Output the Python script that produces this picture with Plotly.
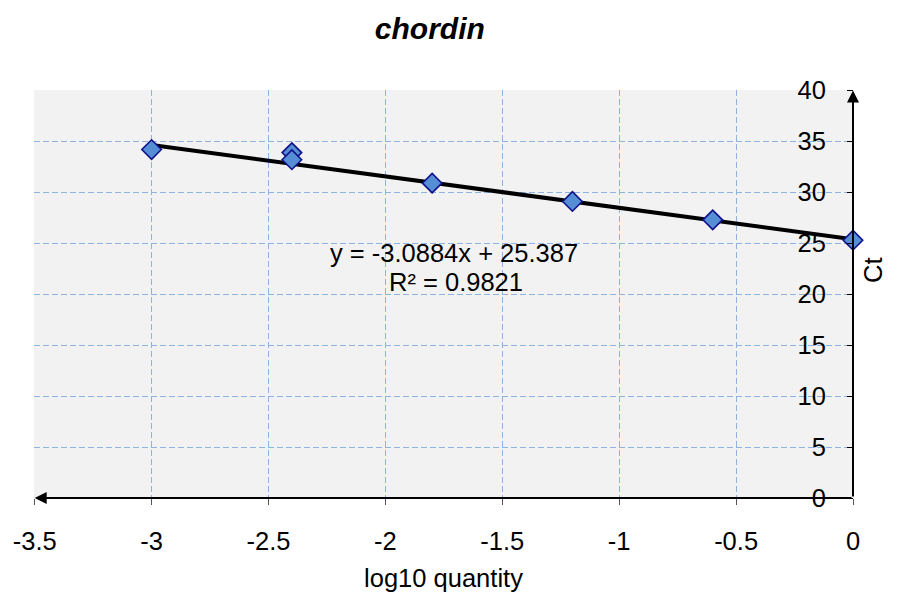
import plotly.graph_objects as go

log_qty = [-3.0, -2.4, -2.4, -1.8, -1.2, -0.6, 0.0]
ct = [34.2, 33.9, 33.2, 30.9, 29.1, 27.3, 25.3]
slope = -3.0884
intercept = 25.387
r2 = 0.9821
trend_x = [-3.0, 0.0]
trend_y = [slope * x + intercept for x in trend_x]
x_ticks = [-3.5, -3, -2.5, -2, -1.5, -1, -0.5, 0]
y_ticks = [0, 5, 10, 15, 20, 25, 30, 35, 40]

font = "Liberation Sans, Arial, sans-serif"
grid_col = "#8db3e2"
fs = 25.5

fig = go.Figure()
fig.add_trace(go.Scatter(x=trend_x, y=trend_y, mode="lines",
                         line=dict(color="black", width=4), showlegend=False))
fig.add_trace(go.Scatter(x=log_qty, y=ct, mode="markers", cliponaxis=False,
                         marker=dict(symbol="diamond", size=15, color="#558ed5",
                                     line=dict(color="#10108a", width=1.6)),
                         showlegend=False))

fig.update_layout(
    width=903, height=597,
    margin=dict(l=34, r=50, t=90, b=99),
    paper_bgcolor="white", plot_bgcolor="#f2f2f2",
    font=dict(family=font, size=fs, color="black"),
    title=dict(text="<b><i>chordin</i></b>", x=0.476, xanchor="center",
               y=0.953, yanchor="middle", font=dict(size=30, family=font)),
    xaxis=dict(range=[-3.503, 0], tickvals=x_ticks, automargin=False,
               ticktext=[f"{v:g}" for v in x_ticks],
               showgrid=True, gridcolor=grid_col, griddash="6px,3px", gridwidth=1.3,
               zeroline=False, showline=False,
               ticks="outside", ticklen=6, tickcolor="#555", tickwidth=1,
               ticklabelstandoff=14,
               title=dict(text="log10 quantity", standoff=15, font=dict(size=fs)),
               tickfont=dict(size=fs)),
    yaxis=dict(range=[0, 40.04], tickvals=y_ticks, side="left", automargin=False,
               anchor="free", position=1,
               showgrid=True, gridcolor=grid_col, griddash="6px,3px", gridwidth=1.3,
               zeroline=False, showline=False,
               ticks="outside", ticklen=6, tickcolor="black", tickwidth=1,
               ticklabelstandoff=16,
               tickfont=dict(size=fs)),
)

# axis lines with arrowheads
fig.add_annotation(x=-3.5, y=0, ax=0, ay=0, xref="x", yref="y", axref="x", ayref="y",
                   showarrow=True, arrowhead=2, arrowwidth=2, arrowsize=1.2,
                   arrowcolor="black", text="")
fig.add_annotation(x=0, y=40, ax=0, ay=0, xref="x", yref="y", axref="x", ayref="y",
                   showarrow=True, arrowhead=2, arrowwidth=2, arrowsize=1.2,
                   arrowcolor="black", text="")

# y-axis title on the right
fig.add_annotation(x=1.0244, y=0.559, xref="paper", yref="paper", showarrow=False,
                   xanchor="center", yanchor="middle",
                   text="Ct", textangle=-90, font=dict(size=fs, family=font))

# trendline equation
fig.add_annotation(x=-1.707, y=24.0, xref="x", yref="y", showarrow=False,
                   text=f"y = {slope}x + {intercept}",
                   font=dict(size=fs, family=font))
fig.add_annotation(x=-1.700, y=21.2, xref="x", yref="y", showarrow=False,
                   text=f"R² = {r2}",
                   font=dict(size=fs, family=font))

fig.write_html("out.html")
